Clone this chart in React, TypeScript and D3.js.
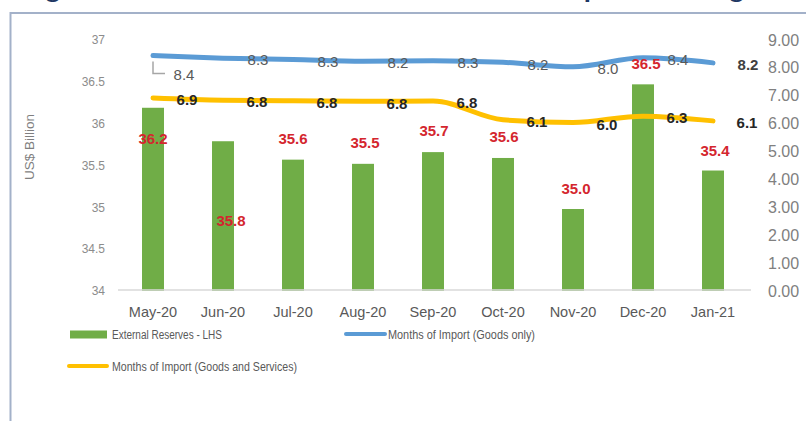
import React from "react";
import * as d3 from "d3";

const categories = ["May-20", "Jun-20", "Jul-20", "Aug-20", "Sep-20", "Oct-20", "Nov-20", "Dec-20", "Jan-21"];
const reserves = [36.19, 35.79, 35.57, 35.52, 35.66, 35.59, 34.98, 36.47, 35.44];
const goodsOnly = [8.44, 8.35, 8.3, 8.24, 8.26, 8.2, 8.04, 8.36, 8.18];
const goodsServices = [6.92, 6.84, 6.82, 6.8, 6.81, 6.14, 6.04, 6.27, 6.1];
const leftTicks = [34, 34.5, 35, 35.5, 36, 36.5, 37];
const rightTicks = [0, 1, 2, 3, 4, 5, 6, 7, 8, 9];
const seriesNames = ["External Reserves - LHS", "Months of Import (Goods only)", "Months of Import (Goods and Services)"];
const titleText = "Figure 2: External Reserves and Months of Import Coverage";
const yAxisTitle = "US$ Billion";

const FONT = "'Liberation Sans', Arial, sans-serif";
const GREEN = "#70ad47";
const BLUE = "#5b9bd5";
const ORANGE = "#ffc000";

export default function App() {
  const W = 806, H = 421;
  const x = d3.scaleBand<string>().domain(categories).range([118, 748]).paddingInner(0.686).paddingOuter(0.343);
  const cx = (c: string) => (x(c) as number) + x.bandwidth() / 2;
  const yL = d3.scaleLinear().domain([34, 37]).range([291, 40]);
  const yR = d3.scaleLinear().domain([0, 9]).range([291, 40]);
  const f1 = d3.format(".1f");
  const f2 = d3.format(".2f");

  const line = (vals: number[]) =>
    d3.line<number>()
      .x((_, i) => cx(categories[i]))
      .y((v) => yR(v))
      .curve(d3.curveMonotoneX)(vals) as string;

  // layout tweaks for bar data labels (as placed in the original)
  const barLabelDy = [31, 80, -21, -21, -21, -21, -20, -21, -20];
  const barLabelDx = [0, 8, 0, 2, 1, 1, 3, 3, 2];
  const last = categories.length - 1;

  return (
    <svg width={W} height={H} style={{ position: "absolute", left: 0, top: 0, background: "#fff" }} fontFamily={FONT}>
      {/* cut-off title */}
      <text x={22} y={-2} fontSize={20} fontWeight="bold" fill="#1f3864" textLength={737} lengthAdjust="spacingAndGlyphs">
        {titleText}
      </text>
      {/* frame */}
      <rect x={10.5} y={13} width={810} height={420} fill="#fff" stroke="#a3b1c9" strokeWidth={2} />

      {/* y axis title */}
      <text transform={`translate(29,147) rotate(-90)`} textAnchor="middle" dy="0.35em" fontSize={13.5} fill="#7f7f7f">
        {yAxisTitle}
      </text>

      {/* left ticks */}
      {leftTicks.map((t) => (
        <text key={"l" + t} x={105} y={yL(t)} dy="0.35em" textAnchor="end" fontSize={12} fill="#8c8c8c">
          {String(t)}
        </text>
      ))}
      {/* right ticks */}
      {rightTicks.map((t) => (
        <text key={"r" + t} x={768} y={yR(t)} dy="0.35em" textAnchor="start" fontSize={16} fill="#808080">
          {f2(t)}
        </text>
      ))}

      {/* bars */}
      {reserves.map((v, i) => (
        <rect key={"b" + i} x={x(categories[i])} y={yL(v)} width={x.bandwidth()} height={yL(34) - yL(v)} fill={GREEN} />
      ))}

      {/* axis line */}
      <line x1={118} x2={751} y1={290} y2={290} stroke="#d9d9d9" strokeWidth={1.5} />

      {/* category labels */}
      {categories.map((c) => (
        <text key={c} x={cx(c)} y={312} dy="0.35em" textAnchor="middle" fontSize={14.5} fill="#595959">
          {c}
        </text>
      ))}

      {/* lines */}
      <path d={line(goodsOnly)} fill="none" stroke={BLUE} strokeWidth={5} strokeLinecap="round" />
      <path d={line(goodsServices)} fill="none" stroke={ORANGE} strokeWidth={5} strokeLinecap="round" />

      {/* goods only labels */}
      {goodsOnly.map((v, i) =>
        i === 0 ? (
          <g key={"gl" + i}>
            <path d={`M${cx(categories[0])},${yR(v) + 6}V${yR(v) + 18}H${cx(categories[0]) + 12}`} fill="none" stroke="#a6a6a6" strokeWidth={1.5} />
            <text x={cx(categories[0]) + 31} y={yR(v) + 19} dy="0.35em" textAnchor="middle" fontSize={15} fill="#595959">
              {f1(v)}
            </text>
          </g>
        ) : (
          <text key={"gl" + i} x={cx(categories[i]) + 35} y={yR(v) + 2} dy="0.35em" textAnchor="middle" fontSize={15}
            fill={i === last ? "#404040" : "#595959"} fontWeight={i === last ? "bold" : "normal"}>
            {f1(v)}
          </text>
        )
      )}
      {/* goods and services labels */}
      {goodsServices.map((v, i) => (
        <text key={"gs" + i} x={cx(categories[i]) + 34} y={yR(v) + 2} dy="0.35em" textAnchor="middle" fontSize={15}
          fontWeight="bold" fill="#262626">
          {f1(v)}
        </text>
      ))}

      {/* bar labels */}
      {reserves.map((v, i) => (
        <text key={"bl" + i} x={cx(categories[i]) + barLabelDx[i]} y={yL(v) + barLabelDy[i]} dy="0.35em" textAnchor="middle"
          fontSize={15} fontWeight="bold" fill="#d4262e">
          {f1(v)}
        </text>
      ))}

      {/* legend */}
      <rect x={70} y={330.5} width={37} height={8} fill={GREEN} />
      <text x={112} y={334.5} dy="0.35em" fontSize={12.5} fill="#595959" textLength={110} lengthAdjust="spacingAndGlyphs">
        {seriesNames[0]}
      </text>
      <line x1={346} x2={385} y1={334} y2={334} stroke={BLUE} strokeWidth={4} strokeLinecap="round" />
      <text x={388} y={334.5} dy="0.35em" fontSize={12.5} fill="#595959" textLength={147} lengthAdjust="spacingAndGlyphs">
        {seriesNames[1]}
      </text>
      <line x1={69} x2={107} y1={366} y2={366} stroke={ORANGE} strokeWidth={4} strokeLinecap="round" />
      <text x={112} y={366.5} dy="0.35em" fontSize={12.5} fill="#595959" textLength={185} lengthAdjust="spacingAndGlyphs">
        {seriesNames[2]}
      </text>
    </svg>
  );
}
